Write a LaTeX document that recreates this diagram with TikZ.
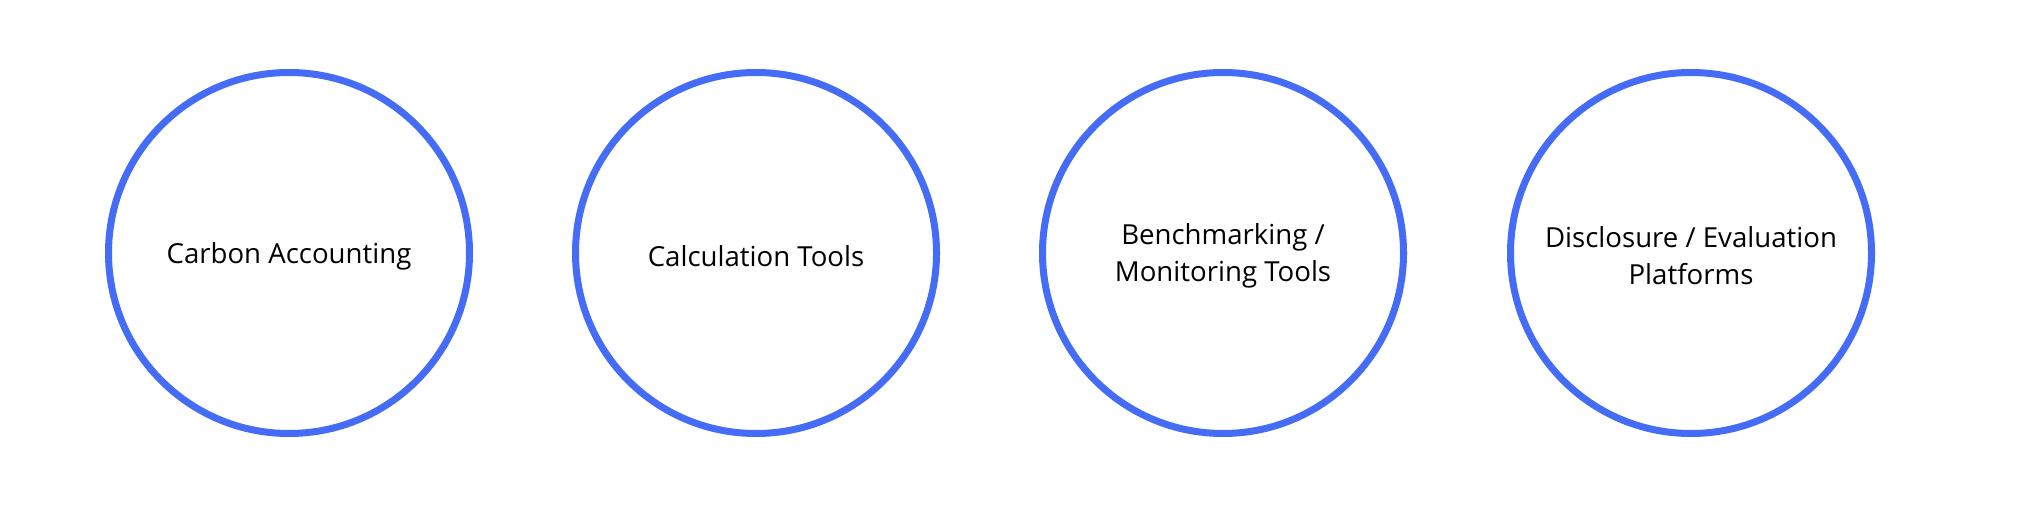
\documentclass[tikz,border=0pt]{standalone}
\usepackage{fontspec}
\setmainfont{Open Sans}
\usepackage{tikz}
\usetikzlibrary{positioning}

\definecolor{ringblue}{RGB}{69,108,246}

\tikzset{
  ring/.style={circle, draw=ringblue, line width=3.5pt, minimum size=180.5pt,
    inner sep=0pt},
  ringtext/.style={align=center, yshift=-1.5pt,
    font=\fontsize{13.8}{18.5}\selectfont},
}

\begin{document}
\begin{tikzpicture}[x=0.5pt, y=-0.5pt]
		\useasboundingbox (0,0) rectangle (2021,513);
		% Kreise
		\node[ring, label={[ringtext]center:Carbon Accounting}] (carbon) at (289, 253) {};
		\node[ring, label={[ringtext]center:Calculation Tools}] (calc) at (756, 253) {};
		\node[ring, label={[ringtext]center:Benchmarking /\\Monitoring Tools}] (bench) at (1223, 253) {};
		\node[ring, label={[ringtext]center:Disclosure / Evaluation\\Platforms}] (disclosure) at (1691, 253) {};
	\end{tikzpicture}
\end{document}
